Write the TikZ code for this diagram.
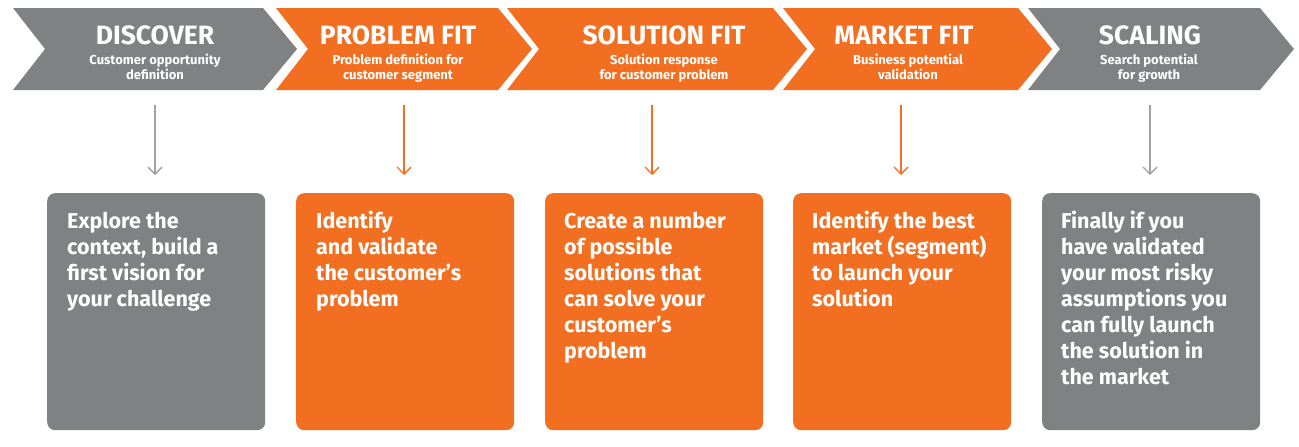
\documentclass[tikz,border=0pt]{standalone}
\usepackage{fontspec}
\setmainfont{Fira Sans}
\usetikzlibrary{arrows.meta,calc}
\definecolor{inggray}{RGB}{128,129,131}
\definecolor{ingorange}{RGB}{242,111,34}
\definecolor{arrgray}{RGB}{160,161,164}
\tikzset{
  ttl/.style={text=white,anchor=base,inner sep=0pt,font=\fontsize{26.5}{28}\selectfont\bfseries},
  sub/.style={text=white,anchor=base,inner sep=0pt,align=center,font=\fontsize{13}{15}\selectfont\bfseries},
  card/.style={fill=#1,rounded corners=8pt,minimum width=218pt,minimum height=237pt,inner sep=0pt,anchor=north west},
  cardtext/.style={text=white,anchor=base west,inner sep=0pt,align=left,font=\fontsize{21.5}{26}\selectfont\bfseries},
  arr/.style={draw=#1,line width=1.3pt,-{Straight Barb[length=7pt,width=14pt,line width=1.3pt]}}
}
\newcommand{\chevshape}[3]{% L, R, color
  \fill[#3] (#1,8) -- (#2,8) -- (#2+34,49) -- (#2,90) -- (#1,90) -- (#1+32,49) -- cycle;}
\begin{document}
\begin{tikzpicture}[x=1pt,y=-1pt]
\useasboundingbox (0,0) rectangle (1299,447);
% chevrons
\chevshape{13}{263}{inggray}
\chevshape{276}{498}{ingorange}
\chevshape{507}{773}{ingorange}
\chevshape{783}{1018}{ingorange}
\chevshape{1028}{1260}{inggray}
% titles (base anchor of a two-line node = last line)
\node[ttl] (t1) at (155,44) {DISCOVER};
\node[sub] (s1) at (155,79) {Customer opportunity\\definition};
\node[ttl] (t2) at (398,44) {PROBLEM FIT};
\node[sub] (s2) at (398,79) {Problem definition for\\customer segment};
\node[ttl] (t3) at (664,44) {SOLUTION FIT};
\node[sub] (s3) at (664,79) {Solution response\\for customer problem};
\node[ttl] (t4) at (904,44) {MARKET FIT};
\node[sub] (s4) at (908,79) {Business potential\\validation};
\node[ttl] (t5) at (1150,44) {SCALING};
\node[sub] (s5) at (1149,79) {Search potential\\for growth};
% cards
\node[card=inggray] (b1) at (47,193) {};
\node[card=ingorange] (b2) at (296,193) {};
\node[card=ingorange] (b3) at (545,193) {};
\node[card=ingorange] (b4) at (793,193) {};
\node[card=inggray] (b5) at (1042,193) {};
\node[cardtext] (c1) at ([shift={(20,35+78)}]b1.north west) {Explore the\\context, build a\\first vision for\\your challenge};
\node[cardtext] (c2) at ([shift={(20,35+78)}]b2.north west) {Identify\\and validate\\the customer’s\\problem};
\node[cardtext] (c3) at ([shift={(19,35+130)}]b3.north west) {Create a number\\of possible\\solutions that\\can solve your\\customer’s\\problem};
\node[cardtext] (c4) at ([shift={(19,35+78)}]b4.north west) {Identify the best\\market (segment)\\to launch your\\solution};
\node[cardtext] (c5) at ([shift={(19,35+156)}]b5.north west) {Finally if you\\have validated\\your most risky\\assumptions you\\can fully launch\\the solution in\\the market};
% arrows
\foreach \i/\x/\c in {1/155/arrgray,2/404/ingorange,3/652/ingorange,4/901/ingorange,5/1150/arrgray}{
  \coordinate (p\i) at (\x,105);
  \coordinate (q\i) at (\x,175);
  \draw[arr=\c] (p\i) -- (q\i);
}
\end{tikzpicture}
\end{document}
